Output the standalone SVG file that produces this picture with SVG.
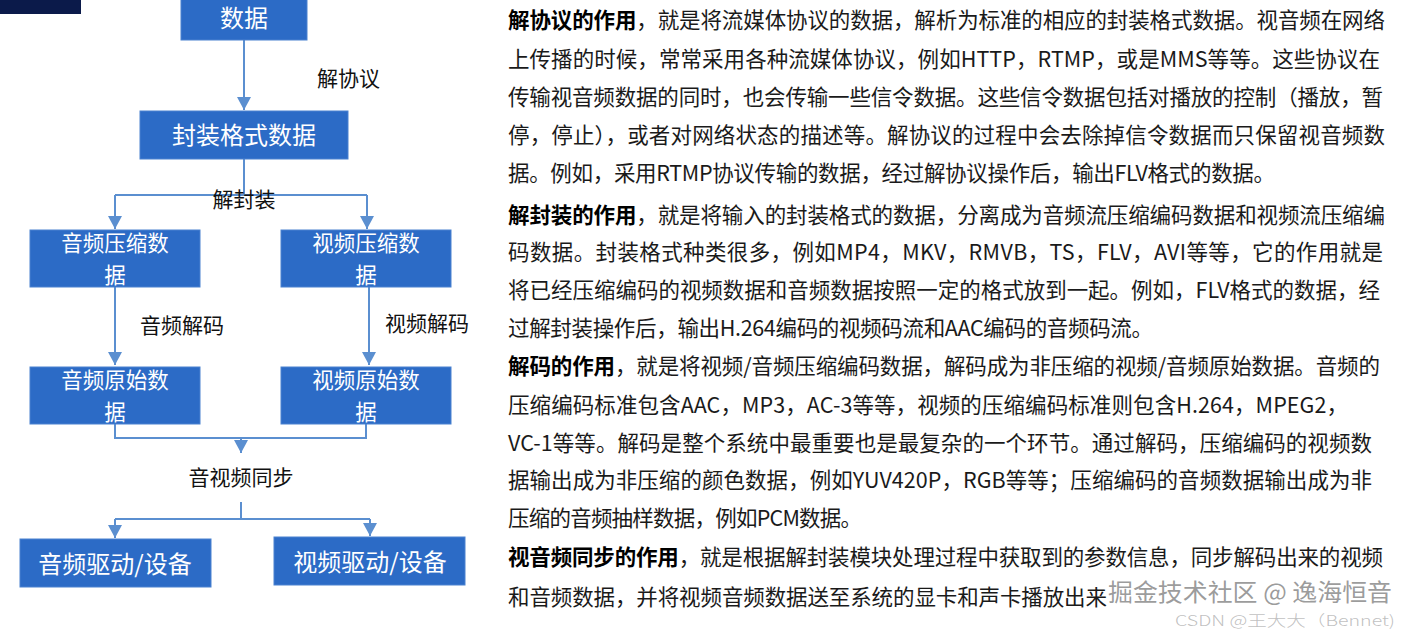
<svg xmlns="http://www.w3.org/2000/svg" width="1412" height="631" viewBox="0 0 1412 631">
<style>
.box{fill:#2c6bc6;stroke:#4a82d0;stroke-width:1}
.bt{font-family:"Noto Sans CJK SC","Liberation Sans",sans-serif;font-size:24px;fill:#fff;text-anchor:middle}
.bt2{font-family:"Noto Sans CJK SC","Liberation Sans",sans-serif;font-size:21.5px;fill:#fff;text-anchor:middle}
.lbl{font-family:"Noto Sans CJK SC","Liberation Sans",sans-serif;font-size:21px;fill:#111}
.con{fill:none;stroke:#5b8fd0;stroke-width:2}
.p{font-family:"Noto Sans CJK SC","Liberation Sans",sans-serif;font-size:21.5px;fill:#1a1a1a}
.b{font-weight:bold;fill:#000}
</style>
<defs>
<marker id="ah" markerUnits="userSpaceOnUse" markerWidth="14" markerHeight="14" viewBox="0 0 14 14" refX="13" refY="7" orient="auto">
<path d="M0,0 L13,7 L0,14 Z" fill="#5b8fd0"/>
</marker>
</defs>
<rect width="1412" height="631" fill="#fff"/>
<rect x="0" y="0" width="81" height="14" fill="#0b1a4a"/>

<g id="connectors">
<path class="con" d="M244,40 V110" marker-end="url(#ah)"/>
<path class="con" d="M244,159 V195 M115,195 H367"/>
<path class="con" d="M115,195 V229" marker-end="url(#ah)"/>
<path class="con" d="M367,195 V229" marker-end="url(#ah)"/>
<path class="con" d="M115,287 V365" marker-end="url(#ah)"/>
<path class="con" d="M369,287 V365" marker-end="url(#ah)"/>
<path class="con" d="M115,424 V438 H366 V424"/>
<path class="con" d="M241,438 V453" marker-end="url(#ah)"/>
<path class="con" d="M241,502 V519 M115,519 H370"/>
<path class="con" d="M115,519 V538" marker-end="url(#ah)"/>
<path class="con" d="M370,519 V536" marker-end="url(#ah)"/>
</g>

<g id="n-data"><rect class="box" x="181" y="-1" width="126" height="41"/><text class="bt" x="244" y="27">数据</text></g>
<g id="n-container"><rect class="box" x="140" y="111" width="208" height="48"/><text class="bt" x="244" y="144">封装格式数据</text></g>
<g id="n-audio-comp"><rect class="box" x="30" y="230" width="170" height="57"/><text class="bt2" x="115" y="251">音频压缩数</text><text class="bt2" x="115" y="282.5">据</text></g>
<g id="n-video-comp"><rect class="box" x="281" y="230" width="170" height="57"/><text class="bt2" x="366" y="251">视频压缩数</text><text class="bt2" x="366" y="282.5">据</text></g>
<g id="n-audio-raw"><rect class="box" x="30" y="367" width="170" height="57"/><text class="bt2" x="115" y="388">音频原始数</text><text class="bt2" x="115" y="419.5">据</text></g>
<g id="n-video-raw"><rect class="box" x="281" y="367" width="170" height="57"/><text class="bt2" x="366" y="388">视频原始数</text><text class="bt2" x="366" y="419.5">据</text></g>
<g id="n-audio-dev"><rect class="box" x="20" y="539" width="191" height="48"/><text class="bt" x="115" y="573">音频驱动/设备</text></g>
<g id="n-video-dev"><rect class="box" x="274" y="537" width="191" height="48"/><text class="bt" x="370" y="571">视频驱动/设备</text></g>

<g id="labels">
<text class="lbl" x="317" y="86">解协议</text>
<text class="lbl" x="244" y="207" text-anchor="middle">解封装</text>
<text class="lbl" x="140" y="333">音频解码</text>
<text class="lbl" x="385" y="331">视频解码</text>
<text class="lbl" x="241" y="485" text-anchor="middle">音视频同步</text>
</g>

<g id="description">
<text class="p" x="508" y="28" textLength="877" lengthAdjust="spacing"><tspan class="b">解协议的作用</tspan>，就是将流媒体协议的数据，解析为标准的相应的封装格式数据。视音频在网络</text>
<text class="p" x="508" y="67" textLength="872" lengthAdjust="spacing">上传播的时候，常常采用各种流媒体协议，例如HTTP，RTMP，或是MMS等等。这些协议在</text>
<text class="p" x="508" y="105" textLength="875" lengthAdjust="spacing">传输视音频数据的同时，也会传输一些信令数据。这些信令数据包括对播放的控制（播放，暂</text>
<text class="p" x="508" y="143" textLength="877" lengthAdjust="spacing">停，停止），或者对网络状态的描述等。解协议的过程中会去除掉信令数据而只保留视音频数</text>
<text class="p" x="508" y="181" textLength="767" lengthAdjust="spacing">据。例如，采用RTMP协议传输的数据，经过解协议操作后，输出FLV格式的数据。</text>
<text class="p" x="508" y="223" textLength="877" lengthAdjust="spacing"><tspan class="b">解封装的作用</tspan>，就是将输入的封装格式的数据，分离成为音频流压缩编码数据和视频流压缩编</text>
<text class="p" x="508" y="260" textLength="875" lengthAdjust="spacing">码数据。封装格式种类很多，例如MP4，MKV，RMVB，TS，FLV，AVI等等，它的作用就是</text>
<text class="p" x="508" y="298" textLength="872" lengthAdjust="spacing">将已经压缩编码的视频数据和音频数据按照一定的格式放到一起。例如，FLV格式的数据，经</text>
<text class="p" x="508" y="336" textLength="645" lengthAdjust="spacing">过解封装操作后，输出H.264编码的视频码流和AAC编码的音频码流。</text>
<text class="p" x="508" y="374" textLength="872" lengthAdjust="spacing"><tspan class="b">解码的作用</tspan>，就是将视频/音频压缩编码数据，解码成为非压缩的视频/音频原始数据。音频的</text>
<text class="p" x="508" y="413" textLength="840" lengthAdjust="spacing">压缩编码标准包含AAC，MP3，AC-3等等，视频的压缩编码标准则包含H.264，MPEG2，</text>
<text class="p" x="508" y="451" textLength="864" lengthAdjust="spacing">VC-1等等。解码是整个系统中最重要也是最复杂的一个环节。通过解码，压缩编码的视频数</text>
<text class="p" x="508" y="488" textLength="864" lengthAdjust="spacing">据输出成为非压缩的颜色数据，例如YUV420P，RGB等等；压缩编码的音频数据输出成为非</text>
<text class="p" x="508" y="526" textLength="354" lengthAdjust="spacing">压缩的音频抽样数据，例如PCM数据。</text>
<text class="p" x="508" y="565" textLength="875" lengthAdjust="spacing"><tspan class="b">视音频同步的作用</tspan>，就是根据解封装模块处理过程中获取到的参数信息，同步解码出来的视频</text>
<text class="p" x="508" y="605" textLength="599" lengthAdjust="spacing">和音频数据，并将视频音频数据送至系统的显卡和声卡播放出来</text>
</g>

<g id="watermark">
<text x="1108" y="601" textLength="284" lengthAdjust="spacingAndGlyphs" style="font-family:'Noto Sans CJK SC','Liberation Sans',sans-serif;font-size:24px;fill:#8a8a8a;fill-opacity:0.85">掘金技术社区 @ 逸海恒音</text>
<text x="1175" y="626" textLength="220" lengthAdjust="spacingAndGlyphs" style="font-family:'Noto Sans CJK SC','Liberation Sans',sans-serif;font-size:15px;font-weight:300;fill:#b0b0b0;fill-opacity:0.8">CSDN @王大大（Bennet)</text>
</g>
</svg>
